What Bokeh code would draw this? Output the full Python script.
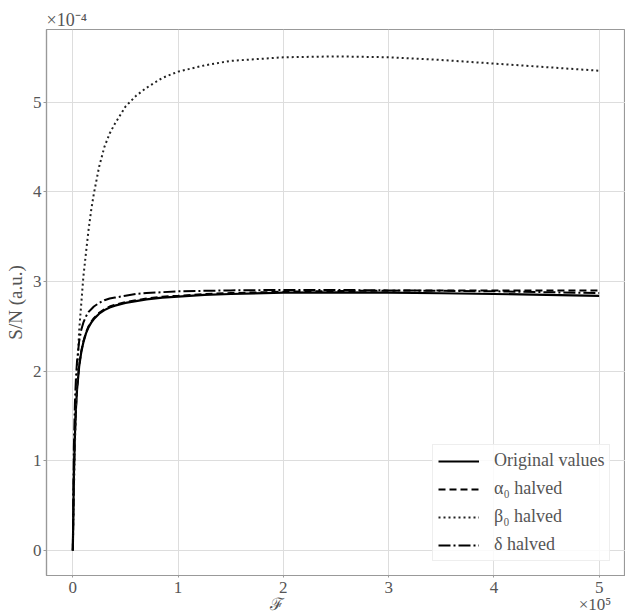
from bokeh.plotting import figure
from bokeh.models import Range1d, Legend, LegendItem, FixedTicker
from bokeh.embed import file_html
from bokeh.resources import INLINE

# x in units of 1e5, y in units of 1e-4 (as displayed on the axes)
flux = [0, 0.01, 0.02, 0.03, 0.04, 0.06, 0.08, 0.1, 0.125, 0.15, 0.175, 0.2, 0.25, 0.3, 0.35,
        0.4, 0.5, 0.6, 0.7, 0.85, 1.0, 1.25, 1.5, 2.0, 2.5, 3.0, 3.5, 4.0, 4.5, 5.0]
sn_original = [0, 0.83, 1.29, 1.59, 1.79, 2.05, 2.21, 2.32, 2.42, 2.49, 2.54, 2.58, 2.64, 2.68, 2.71,
               2.73, 2.76, 2.78, 2.80, 2.82, 2.83, 2.85, 2.86, 2.875, 2.878, 2.875, 2.868, 2.86, 2.85, 2.84]
sn_alpha = [0, 0.84, 1.30, 1.60, 1.80, 2.06, 2.22, 2.33, 2.43, 2.50, 2.55, 2.59, 2.65, 2.69, 2.72,
            2.74, 2.77, 2.79, 2.81, 2.83, 2.84, 2.86, 2.87, 2.885, 2.893, 2.897, 2.90, 2.90, 2.90, 2.90]
sn_beta = [0, 0.65, 1.17, 1.60, 1.95, 2.45, 2.75, 3.05, 3.32, 3.58, 3.80, 3.98, 4.28, 4.50, 4.65,
           4.76, 4.95, 5.07, 5.16, 5.27, 5.34, 5.41, 5.46, 5.50, 5.51, 5.50, 5.47, 5.43, 5.39, 5.35]
sn_delta = [0, 1.15, 1.65, 1.93, 2.11, 2.33, 2.46, 2.54, 2.61, 2.66, 2.69, 2.72, 2.76, 2.79, 2.81,
            2.82, 2.84, 2.86, 2.87, 2.88, 2.89, 2.895, 2.90, 2.905, 2.905, 2.90, 2.895, 2.89, 2.88, 2.87]
series_labels = ["Original values", "α₀ halved", "β₀ halved", "δ halved"]
ticks = [0, 1, 2, 3, 4, 5]
x_overrides = {2: "2\nℱ   ", 5: "5\n  ×10⁵"}   # axis symbol and offset factor
y_offset_text = "×10⁻⁴"
y_label = "S/N (a.u.)"

FONT = "Liberation Serif"
GREY = "#555555"
SPINE = "#999999"

p = figure(width=625, height=616, output_backend="svg", toolbar_location=None,
           x_range=Range1d(-0.25, 5.25), y_range=Range1d(-0.28, 5.81),
           min_border_left=46, min_border_right=0, min_border_top=29, min_border_bottom=39,
           title=y_offset_text)
p.background_fill_color = "white"
p.border_fill_color = "white"
p.outline_line_color = SPINE
p.outline_line_width = 1.2

p.title.align = "left"
p.title.text_font = FONT
p.title.text_font_size = "18px"
p.title.text_font_style = "normal"
p.title.text_color = GREY
p.title.standoff = 0

for ax in (p.xaxis[0], p.yaxis[0]):
    ax.ticker = FixedTicker(ticks=ticks)
    ax.axis_line_color = SPINE
    ax.axis_line_width = 1.2
    ax.major_tick_line_color = SPINE
    ax.major_tick_in = 0
    ax.minor_tick_line_color = None
    ax.major_label_text_font = FONT
    ax.major_label_text_font_size = "17px"
    ax.major_label_text_color = GREY

p.xaxis[0].major_tick_out = 2
p.xaxis[0].major_label_standoff = 0
p.xaxis[0].major_label_text_line_height = 0.9
p.xaxis[0].major_label_overrides = x_overrides

p.yaxis[0].major_tick_out = 3
p.yaxis[0].major_label_standoff = 2
p.yaxis[0].axis_label = y_label
p.yaxis[0].axis_label_text_font = FONT
p.yaxis[0].axis_label_text_font_size = "19px"
p.yaxis[0].axis_label_text_font_style = "normal"
p.yaxis[0].axis_label_text_color = GREY
p.yaxis[0].axis_label_standoff = 4

p.xgrid.grid_line_color = "#dddddd"
p.ygrid.grid_line_color = "#dddddd"

r_orig = p.line(flux, sn_original, line_color="black", line_width=2.2)
r_alpha = p.line(flux, sn_alpha, line_color="black", line_width=2, line_dash="7 4")
r_beta = p.line(flux, sn_beta, line_color="#222222", line_width=2, line_dash="2 3")
r_delta = p.line(flux, sn_delta, line_color="black", line_width=2, line_dash="12 3 2 3")

legend = Legend(items=[LegendItem(label=series_labels[0], renderers=[r_orig]),
                       LegendItem(label=series_labels[1], renderers=[r_alpha]),
                       LegendItem(label=series_labels[2], renderers=[r_beta]),
                       LegendItem(label=series_labels[3], renderers=[r_delta])],
                location=(386, 14))
legend.label_text_font = FONT
legend.label_text_font_size = "18px"
legend.label_text_color = GREY
legend.glyph_width = 41
legend.glyph_height = 20
legend.label_height = 20
legend.label_standoff = 15
legend.spacing = 7
legend.padding = 5
legend.margin = 0
legend.border_line_color = "#dddddd"
legend.background_fill_color = "white"
legend.background_fill_alpha = 0.85
p.add_layout(legend)

open("out.html", "w").write(file_html(p, INLINE))
